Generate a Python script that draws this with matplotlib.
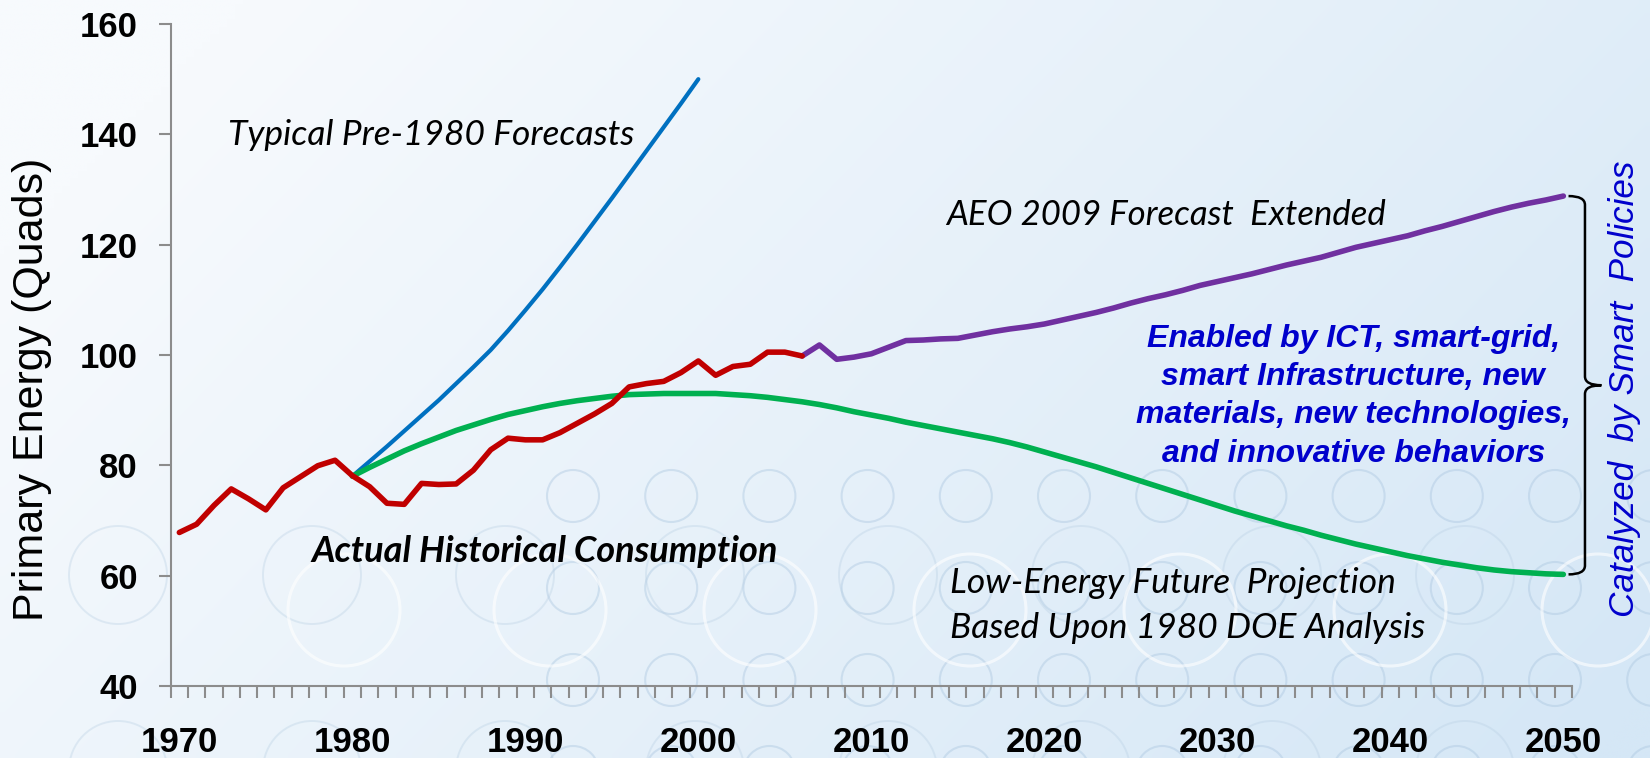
import numpy as np
import matplotlib.pyplot as plt
from matplotlib.path import Path
from matplotlib.patches import PathPatch, Circle

# US primary energy consumption (quads)
hist_years = list(range(1970, 2007))
hist_vals = [67.8, 69.3, 72.7, 75.7, 73.9, 71.9, 75.9, 77.9, 79.9, 80.9,
             78.1, 76.1, 73.1, 72.9, 76.7, 76.5, 76.6, 79.1, 82.8, 84.9,
             84.6, 84.6, 85.9, 87.6, 89.3, 91.2, 94.2, 94.8, 95.2, 96.8,
             98.9, 96.3, 97.9, 98.3, 100.5, 100.5, 99.8]

aeo_years = list(range(2006, 2051))
aeo_vals = [99.8, 101.8, 99.2, 99.6,
            100.2, 101.4, 102.6, 102.7, 102.9, 103.0, 103.6, 104.2, 104.7, 105.1,
            105.6, 106.3, 107.0, 107.7, 108.5, 109.4, 110.2, 110.9, 111.7, 112.6,
            113.3, 114.0, 114.7, 115.5, 116.3, 117.0, 117.7, 118.6, 119.5, 120.2,
            120.9, 121.6, 122.5, 123.3, 124.2, 125.1, 126.0, 126.8, 127.5, 128.1, 128.8]

pre80_years = list(range(1980, 2001))
pre80_vals = [78.0, 80.7, 83.4, 86.2, 89.0, 91.8, 94.8, 97.8, 100.9, 104.4,
              108.1, 111.9, 115.9, 120.0, 124.2, 128.4, 132.7, 137.0, 141.3, 145.6, 150.0]

low_years = list(range(1980, 2051))
low_vals = [78.0, 79.6, 81.1, 82.6, 83.9, 85.1, 86.3, 87.3, 88.3, 89.2,
            89.9, 90.6, 91.2, 91.7, 92.1, 92.5, 92.8, 92.9, 93.0, 93.0,
            93.0, 93.0, 92.8, 92.6, 92.3, 91.9, 91.5, 91.0, 90.4, 89.7,
            89.1, 88.5, 87.8, 87.2, 86.6, 86.0, 85.4, 84.8, 84.1, 83.3,
            82.4, 81.5, 80.6, 79.7, 78.7, 77.7, 76.7, 75.7, 74.7, 73.7,
            72.7, 71.7, 70.8, 69.9, 69.0, 68.2, 67.3, 66.5, 65.7, 65.0,
            64.3, 63.6, 63.0, 62.4, 61.9, 61.4, 61.0, 60.7, 60.5, 60.3, 60.2]

blue_lines = ["Enabled by ICT, smart-grid,",
              "smart Infrastructure, new",
              "materials, new technologies,",
              "and innovative behaviors"]

W, H = 1650, 758
fig = plt.figure(figsize=(W / 100, H / 100), dpi=100)

# background: soft blue gradient with bubble pattern
bg = fig.add_axes([0, 0, 1, 1], zorder=0)
xx, yy = np.meshgrid(np.linspace(0, 1, 200), np.linspace(0, 1, 100))
t = np.clip(0.8 * xx + 0.35 * yy - 0.12, 0, 1)
c0 = np.array([247, 250, 253]) / 255
c1 = np.array([213, 231, 246]) / 255
grad = c0 + (c1 - c0) * t[..., None]
bg.imshow(grad, extent=[0, W, H, 0], aspect='auto', interpolation='bilinear')
for cx in np.arange(573, 1700, 98.2):
    for cy in [496, 588, 680, 772]:
        bg.add_patch(Circle((cx, cy), 26, fill=False, ec=(0.66, 0.77, 0.87), lw=1.5, alpha=0.4))
for cx in [118, 312, 505, 695, 888, 1081, 1272, 1465]:
    for cy in [575, 770]:
        bg.add_patch(Circle((cx, cy), 49, fill=False, ec=(0.72, 0.81, 0.89), lw=1.4, alpha=0.35))
for cx in [344, 550, 760, 970, 1180, 1390, 1598]:
    bg.add_patch(Circle((cx, 610), 56, fill=False, ec='white', lw=2.2, alpha=0.6))
bg.set_xlim(0, W)
bg.set_ylim(H, 0)
bg.axis('off')

ax = fig.add_axes([0.10345, 0.09525, 0.84927, 0.87309], zorder=1)
ax.patch.set_visible(False)

lw = 4.0
ax.plot(pre80_years, pre80_vals, color='#0070C0', lw=3.0, solid_capstyle='round', solid_joinstyle='round')
ax.plot(low_years, low_vals, color='#00B050', lw=lw, solid_capstyle='round', solid_joinstyle='round')
ax.plot(aeo_years, aeo_vals, color='#7030A0', lw=lw, solid_capstyle='round', solid_joinstyle='round')
ax.plot(hist_years, hist_vals, color='#C00000', lw=lw, solid_capstyle='round', solid_joinstyle='round')

ax.set_xlim(1969.5, 2050.5)
ax.set_ylim(40, 160)
ax.set_yticks(range(40, 161, 20))
ax.set_xticks(range(1970, 2051, 10))
ax.set_xticks(np.arange(1969.5, 2051, 1), minor=True)
for s in ['top', 'right']:
    ax.spines[s].set_visible(False)
for s in ['left', 'bottom']:
    ax.spines[s].set_color('#8c8c8c')
    ax.spines[s].set_linewidth(1.5)
ax.tick_params(axis='y', length=8.6, width=1.5, color='#8c8c8c', pad=15, labelsize=25)
ax.tick_params(axis='x', which='major', length=0, pad=29, labelsize=25)
ax.tick_params(axis='x', which='minor', length=8.6, width=1.5, color='#8c8c8c')
for lab in ax.get_xticklabels() + ax.get_yticklabels():
    lab.set_fontweight('bold')
    lab.set_family('Liberation Sans')

fig.text(31.6 / W, 1 - 389.5 / H, 'Primary Energy (Quads)', rotation=90,
         ha='center', va='center', fontsize=31, family='Liberation Sans')

cal = 'Lato'
ax.text(1972.83, 138.06, 'Typical Pre-1980 Forecasts', fontsize=25.5, style='italic',
        family=cal, va='baseline', ha='left')
ax.text(2014.35, 123.55, 'AEO 2009 Forecast  Extended', fontsize=25, style='italic',
        family=cal, va='baseline', ha='left')
ax.text(1977.65, 62.5, 'Actual Historical Consumption', fontsize=26, style='italic',
        weight='bold', family=cal, va='baseline', ha='left')
ax.text(2014.55, 56.77, 'Low-Energy Future  Projection', fontsize=25.5, style='italic',
        family=cal, va='baseline', ha='left')
ax.text(2014.55, 48.6, 'Based Upon 1980 DOE Analysis', fontsize=25.5, style='italic',
        family=cal, va='baseline', ha='left')

for line, yv in zip(blue_lines, [101.49, 94.55, 87.6, 80.66]):
    ax.text(2037.85, yv, line, fontsize=23, style='italic', weight='bold',
            color='#0000CC', family='Liberation Sans', ha='center', va='baseline')

ax.text(2053.56, 93.9, 'Catalyzed  by Smart  Policies', rotation=90, fontsize=25.3,
        style='italic', color='#0000CC', family='Liberation Sans',
        ha='center', va='center', clip_on=False)

# curly brace spanning the gap between the AEO and low-energy projections
x0, x1, x2 = 2050.3, 2051.25, 2052.2
ytop, ymid, ybot, r = aeo_vals[-1], 94.5, low_vals[-1], 1.6
verts = [(x0, ytop), (x1, ytop), (x1, ytop - r), (x1, ymid + r), (x1, ymid), (x2, ymid),
         (x1, ymid), (x1, ymid - r), (x1, ybot + r), (x1, ybot), (x0, ybot)]
codes = [Path.MOVETO, Path.CURVE3, Path.CURVE3, Path.LINETO, Path.CURVE3, Path.CURVE3,
         Path.CURVE3, Path.CURVE3, Path.LINETO, Path.CURVE3, Path.CURVE3]
ax.add_patch(PathPatch(Path(verts, codes), fill=False, ec='black', lw=1.8, clip_on=False))

fig.savefig('out.png', dpi=100)
